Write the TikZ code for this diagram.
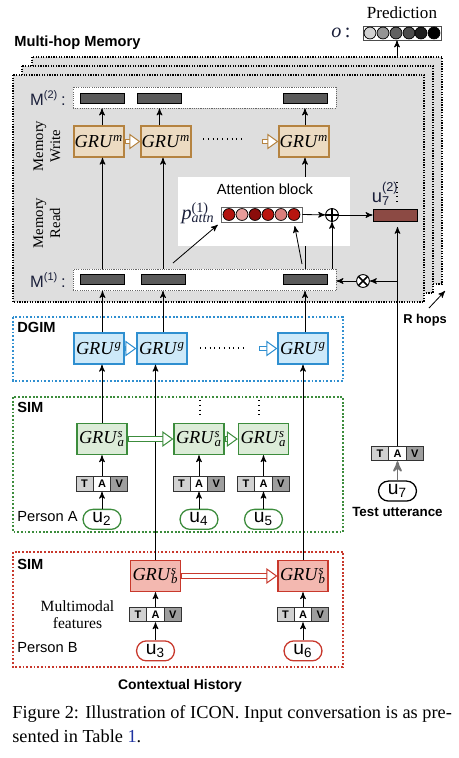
\documentclass[tikz,border=0pt]{standalone}
\usepackage{fontspec}
\setmainfont{Liberation Serif}
\setsansfont{Liberation Sans}
\usepackage{xcolor}
\usepackage{tikz}
\usetikzlibrary{shapes, arrows, arrows.meta, positioning, decorations.markings}

\definecolor{ink}{RGB}{26,31,58}
\definecolor{linkblue}{RGB}{30,50,160}
\definecolor{layerfill}{RGB}{222,222,222}
\definecolor{barfill}{RGB}{90,90,90}
\definecolor{memfill}{RGB}{236,219,194}
\definecolor{memdraw}{RGB}{181,131,64}
\definecolor{dgimfill}{RGB}{205,233,249}
\definecolor{dgimdraw}{RGB}{47,143,208}
\definecolor{simafill}{RGB}{220,236,216}
\definecolor{simadraw}{RGB}{60,140,60}
\definecolor{simbfill}{RGB}{243,184,176}
\definecolor{simbdraw}{RGB}{200,56,44}
\definecolor{ubar}{RGB}{140,74,68}
\definecolor{red1}{RGB}{178,18,14}
\definecolor{red2}{RGB}{232,156,154}
\definecolor{red3}{RGB}{139,13,11}
\definecolor{red4}{RGB}{186,22,16}
\definecolor{red5}{RGB}{218,126,124}
\definecolor{red6}{RGB}{184,21,15}

\newcommand{\grux}[2]{\textit{GRU}\rlap{\textsuperscript{\textit{#1}}}\textsubscript{\textit{#2}}}
\newcommand{\tavtext}{\makebox[5pt]{T}\nodepart{two}\makebox[5pt]{A}\nodepart{three}\makebox[5pt]{V}}

\begin{document}
\begin{tikzpicture}[
    x=0.546pt, y=-0.546pt,
    layer/.style={draw, fill=layerfill, dash pattern=on 0.7pt off 0.7pt, line width=0.6pt},
    membox/.style={draw=black!60, fill=white, dash pattern=on 0.6pt off 0.6pt, line width=0.5pt, minimum width=143.6pt, minimum height=11.5pt, inner sep=0},
    bar/.style={draw, fill=barfill, line width=0.4pt, minimum width=24pt, minimum height=5.5pt, inner sep=0},
    grubox/.style 2 args={draw=#2, fill=#1, line width=0.7pt, minimum width=27.3pt, minimum height=17pt, inner sep=0, font=\fontsize{10}{12}\selectfont},
    zone/.style={draw=#1, dash pattern=on 1pt off 1pt, line width=0.8pt},
    tav/.style={rectangle split, rectangle split horizontal, rectangle split parts=3, rectangle split part fill={black!18, white, black!38}, draw=black!80, line width=0.5pt, inner xsep=2pt, inner ysep=1.9pt, font=\sffamily\bfseries\fontsize{6}{7}\selectfont},
    utt/.style={draw=#1, fill=white, rounded corners=5.4pt, line width=0.7pt, minimum width=20.7pt, minimum height=10.9pt, inner sep=0, font=\sffamily\fontsize{10.5}{12}\selectfont},
    bead/.style={circle, draw, line width=0.4pt, minimum size=6.5pt, inner sep=0, fill=#1},
    blocktitle/.style={font=\sffamily\bfseries\fontsize{8}{9}\selectfont, inner sep=0},
    txt/.style={font=\sffamily\fontsize{8}{9}\selectfont, inner sep=0},
    mlab/.style={font=\sffamily\fontsize{9}{10}\selectfont, text=ink, inner sep=0},
    arrow/.style={->, >=stealth', line width=0.45pt},
    fat/.style={draw=#1, line width=3pt, shorten >=3.5pt,
        postaction={draw=white, line width=1.9pt, shorten >=3.5pt, shorten <=0.55pt},
        postaction={decorate, decoration={markings, mark=at position 1 with {\arrow{Triangle[length=6pt, width=8.5pt, line width=0.55pt, color=#1, fill=white]}}}}},
    node distance=10pt
]
\useasboundingbox (0,0) rectangle (459,758);

% 多跳记忆
\draw[layer] (32,57) rectangle (442,284);
\draw[layer] (22,66) rectangle (433,293);
\draw[layer] (13,75) rectangle (424,302);
\node[blocktitle, anchor=west] (mhm) at (14,43) {Multi-hop Memory};

% 输出
\node[font=\fontsize{9.3}{11}\selectfont, inner sep=0] (pred) at (402,13) {Prediction};
\node[draw=black!70, fill=white, line width=0.5pt, minimum width=42.6pt, minimum height=7.6pt, inner sep=0] (outvec) at (402,33) {};
\node[bead=black!18] (o1) at (370,33) {};
\node[bead=black!42] (o2) at (383,33) {};
\node[bead=black!62] (o3) at (396,33) {};
\node[bead=black!70] (o4) at (409,33) {};
\node[bead=black!88] (o5) at (421,33) {};
\node[bead=black] (o6) at (434,33) {};
\node[font=\fontsize{11}{12}\selectfont, text=ink, inner sep=0] (olab) at (341,33) {\textit{o}\,:};

% 记忆 M(2) 与 M(1)
\node[membox] (m2) at (204.5,97.5) {};
\node[membox] (m1) at (204.5,280) {};
\node[bar] (b21) at (102,98) {};
\node[bar] (b22) at (159.5,98) {};
\node[bar] (b23) at (305,98) {};
\node[bar] (b11) at (102.5,279.5) {};
\node[bar] (b12) at (163,279.5) {};
\node[bar] (b13) at (305,279.5) {};
\node[mlab, anchor=east] (m2lab) at (66,98) {M\textsuperscript{(2)}\,:};
\node[mlab, anchor=east] (m1lab) at (66,280) {M\textsuperscript{(1)}\,:};

% 写入
\node[grubox={memfill}{memdraw}] (gm1) at (99,141.5) {\textit{GRU}\textsuperscript{\textit{m}}};
\node[grubox={memfill}{memdraw}] (gm2) at (166,141.5) {\textit{GRU}\textsuperscript{\textit{m}}};
\node[grubox={memfill}{memdraw}] (gm3) at (304,141.5) {\textit{GRU}\textsuperscript{\textit{m}}};
\node[rotate=90, align=center, font=\fontsize{8}{9.3}\selectfont] (mwrite) at (47,146) {Memory\\Write};
\node[rotate=90, align=center, font=\fontsize{8}{9.3}\selectfont] (mread) at (47,223) {Memory\\Read};

\draw[arrow] (b13 |- m1.north) -- (b13 |- gm3.south);

% 注意力模块
\node[fill=white, minimum width=93.9pt, minimum height=37.7pt, inner sep=0] (attbox) at (264,211.5) {};
\node[txt] (attlab) at (265,189) {Attention block};
\node[font=\fontsize{11}{12}\selectfont, text=ink, inner sep=0] (patt) at (198,213) {\textit{p}\rlap{\textsuperscript{(1)}}\textsubscript{\textit{attn}}};
\node[draw=black!60, fill=white, line width=0.5pt, minimum width=44.2pt, minimum height=8.2pt, inner sep=0] (attvec) at (261.5,214.5) {};
\node[bead=red1] (a1) at (229,214.5) {};
\node[bead=red2] (a2) at (242,214.5) {};
\node[bead=red3] (a3) at (255,214.5) {};
\node[bead=red4] (a4) at (268,214.5) {};
\node[bead=red5] (a5) at (281,214.5) {};
\node[bead=red6] (a6) at (294,214.5) {};
\node[circle, draw, fill=white, line width=0.5pt, minimum size=7pt, inner sep=0] (plus) at (332,215) {};
\draw[line width=0.9pt] (plus.north) -- (plus.south) (plus.west) -- (plus.east);
\node[circle, draw, fill=white, line width=0.5pt, minimum size=7pt, inner sep=0] (times) at (363,281) {};
\draw[line width=0.9pt] (times.north west) -- (times.south east) (times.north east) -- (times.south west);
\node[draw, fill=ubar, line width=0.5pt, minimum width=24pt, minimum height=6.5pt, inner sep=0] (u7bar) at (395,215) {};
\node[font=\sffamily\fontsize{10}{11}\selectfont, text=ink, inner sep=0] (u7lab) at (381,194) {u\rlap{\textsuperscript{\raisebox{2.5pt}{(2)}}}\textsubscript{7}};
\draw[dotted, line width=0.6pt] (397,182) -- (397,203);

% 测试语句
\node[tav] (tt) at (397.5,453.5) {\tavtext};
\node[utt=black, below=10.5pt of tt] (u7) {u\textsubscript{7}};
\node[blocktitle, font=\sffamily\bfseries\fontsize{7.3}{8}\selectfont, below=3pt of u7] (testlab) {Test utterance};

% DGIM
\draw[zone=dgimdraw] (13,317) rectangle (343,381);
\node[blocktitle, anchor=west] (dgim) at (17,327) {DGIM};
\node[grubox={dgimfill}{dgimdraw}] (gg1) at (99,348.5) {\textit{GRU}\textsuperscript{\textit{g}}};
\node[grubox={dgimfill}{dgimdraw}] (gg2) at (162,348.5) {\textit{GRU}\textsuperscript{\textit{g}}};
\node[grubox={dgimfill}{dgimdraw}] (gg3) at (303,348.5) {\textit{GRU}\textsuperscript{\textit{g}}};

% SIM: Person A
\draw[zone=simadraw] (13,397) rectangle (343,532);
\node[blocktitle, anchor=west] (sima) at (17,407) {SIM};
\node[grubox={simafill}{simadraw}] (ga1) at (102,439) {\grux{s}{a}};
\node[grubox={simafill}{simadraw}] (ga2) at (199,439) {\grux{s}{a}};
\node[grubox={simafill}{simadraw}] (ga3) at (263.5,439) {\grux{s}{a}};
\node[tav, below=11.5pt of ga1] (ta1) {\tavtext};
\node[tav, below=11.5pt of ga2] (ta2) {\tavtext};
\node[tav, below=11.5pt of ga3] (ta3) {\tavtext};
\node[utt=simadraw, below=9.3pt of ta1] (u2) {u\textsubscript{2}};
\node[utt=simadraw, below=9.3pt of ta2] (u4) {u\textsubscript{4}};
\node[utt=simadraw, below=9.3pt of ta3] (u5) {u\textsubscript{5}};
\node[txt, anchor=west] (pera) at (17,517) {Person A};

% SIM: Person B
\draw[zone=simbdraw] (13,552) rectangle (343,667);
\node[blocktitle, anchor=west] (simb) at (17,564) {SIM};
\node[grubox={simbfill}{simbdraw}] (gb1) at (155.5,576) {\grux{s}{b}};
\node[grubox={simbfill}{simbdraw}] (gb2) at (303,576) {\grux{s}{b}};
\node[tav, below=8pt of gb1] (tb1) {\tavtext};
\node[tav, below=8pt of gb2] (tb2) {\tavtext};
\node[utt=simbdraw, below=9.8pt of tb1] (u3) {u\textsubscript{3}};
\node[utt=simbdraw, below=9.8pt of tb2] (u6) {u\textsubscript{6}};
\node[align=center, font=\fontsize{8.5}{9.3}\selectfont, inner sep=0] (mmf) at (77.5,614.5) {Multimodal\\features};
\node[txt, anchor=west] (perb) at (17,648) {Person B};

\node[blocktitle, font=\sffamily\bfseries\fontsize{7.6}{9}\selectfont] (ctx) at (180,686) {Contextual History};
\node[anchor=north west, text width=240pt, align=justify, inner sep=0, font=\fontsize{10}{13}\selectfont] (cap) at (12,705) {Figure 2: Illustration of ICON. Input conversation is as pre-\linebreak sented in Table~\textcolor{linkblue}{1}.};

% 绘制箭头
\draw[arrow] (b11 |- m1.north) -- (b11 |- gm1.south);
\draw[arrow] (b12 |- m1.north) -- (b12 |- gm2.south);
\draw[arrow] (b21 |- gm1.north) -- (b21 |- m2.south);
\draw[arrow] (b22 |- gm2.north) -- (b22 |- m2.south);
\draw[arrow] (b23 |- gm3.north) -- (b23 |- m2.south);
\draw[arrow] (b11 |- gg1.north) -- (b11 |- m1.south);
\draw[arrow] (b12 |- gg2.north) -- (b12 |- m1.south);
\draw[arrow] (b13 |- gg3.north) -- (b13 |- m1.south);
\draw[arrow] (ga1) -- (ga1 |- gg1.south);
\draw[arrow] (gb1) -- (gb1 |- gg2.south);
\draw[arrow] (gb2) -- (gb2 |- gg3.south);
\draw[arrow] (ta1) -- (ga1);
\draw[arrow] (ta2) -- (ga2);
\draw[arrow] (ta3) -- (ga3);
\draw[arrow] (u2) -- (ta1);
\draw[arrow] (u4) -- (ta2);
\draw[arrow] (u5) -- (ta3);
\draw[arrow] (tb1) -- (gb1);
\draw[arrow] (tb2) -- (gb2);
\draw[arrow] (u3) -- (tb1);
\draw[arrow] (u6) -- (tb2);
\draw[arrow, draw=black!55, line width=1pt] (u7) -- (tt);

\draw[arrow] (attvec.east) -- (plus);
\draw[arrow] (plus) -- (u7bar);
\draw[arrow] (m1.north -| plus) -- (plus);
\coordinate (q1) at (173,263);
\coordinate (q2) at (302,264);
\draw[arrow, shorten >=2pt] (q1) -- (attvec.south west);
\draw[arrow, shorten >=2pt] (q2) -- (attvec.south -| a6);
\draw[arrow, shorten >=3pt] (tt) -- (tt |- u7bar.south);
\coordinate (br) at (tt |- times);
\draw[arrow] (br) -- (times);
\draw[arrow] (times) -- (times -| m1.east);

\coordinate (hop) at (397,57);
\draw[arrow] (hop) -- (hop |- outvec.south);
\coordinate (rh1) at (429,308);
\coordinate (rh2) at (445,291);
\draw[arrow] (rh1) -- (rh2);
\node[blocktitle, font=\sffamily\bfseries\fontsize{7}{8}\selectfont] (rhops) at (425,320) {R hops};

% 空心箭头
\draw[fat=memdraw] (gm1) -- (gm2);
\coordinate (gm3in) at (262,141.5);
\draw[fat=memdraw] (gm3in) -- (gm3);
\draw[fat=dgimdraw] (gg1) -- (gg2);
\coordinate (gg3in) at (259,348.5);
\draw[fat=dgimdraw] (gg3in) -- (gg3);
\draw[fat=simadraw] (ga1) -- (ga2);
\draw[fat=simadraw] (ga2) -- (ga3);
\draw[fat=simbdraw] (gb1) -- (gb2);

% 省略号
\draw[dotted, line width=0.6pt] (203,139) -- (243,139);
\draw[dotted, line width=0.6pt] (200,348) -- (243,348);
\draw[dotted, line width=0.6pt] (200,400) -- (200,418);
\draw[dotted, line width=0.6pt] (259,400) -- (259,418);

\end{tikzpicture}
\end{document}
